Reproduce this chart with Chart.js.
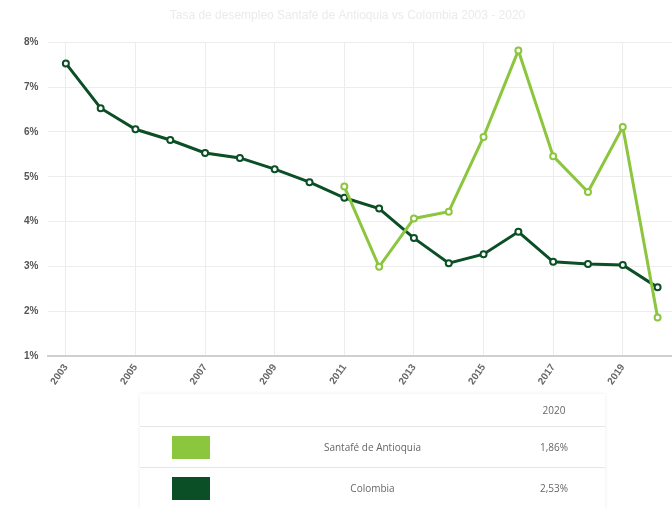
<!DOCTYPE html>
<html>
<head>
<meta charset="utf-8">
<script src="https://cdn.jsdelivr.net/npm/chart.js@4"></script>
<style>
  body { margin: 0; background: #fff; font-family: "Open Sans", "DejaVu Sans", sans-serif; overflow: hidden; }
  #wrap { position: relative; width: 681px; height: 393px; }
  #tabla {
    position: absolute; left: 140px; top: 394px; width: 465px;
    border-collapse: collapse; font-size: 10px; color: #666;
    box-shadow: 0 0 4px rgba(0,0,0,0.08); background: #fff;
  }
  #tabla td { border-bottom: 1px solid #e6e6e6; text-align: center; }
  #tabla tr.head td { height: 30px; }
  #tabla tr.row td { height: 38px; }
  .sw { display: inline-block; width: 38px; height: 23px; vertical-align: middle; }
</style>
</head>
<body>
<div id="wrap"><canvas id="chart"></canvas></div>
<table id="tabla">
  <tr class="head"><td style="width:100px"></td><td></td><td style="width:100px" id="hdr"></td></tr>
  <tr class="row"><td><span class="sw" style="background:#8cc63e"></span></td><td id="n0"></td><td id="v0"></td></tr>
  <tr class="row"><td><span class="sw" style="background:#0b4f26"></span></td><td id="n1"></td><td id="v1"></td></tr>
</table>
<script>
const years = ["2003","2004","2005","2006","2007","2008","2009","2010","2011","2012","2013","2014","2015","2016","2017","2018","2019","2020"];
const santafe = [null,null,null,null,null,null,null,null,4.78,2.99,4.07,4.22,5.89,7.82,5.46,4.66,6.11,1.86];
const colombia = [7.53,6.53,6.06,5.82,5.53,5.42,5.17,4.88,4.53,4.29,3.63,3.07,3.27,3.77,3.10,3.05,3.03,2.53];
const seriesNames = ["Santafé de Antioquia", "Colombia"];
const yTicks = [1, 2, 3, 4, 5, 6, 7, 8];

const fmt = (v) => v.toFixed(2).replace(".", ",") + "%";
document.getElementById("hdr").textContent = years[years.length - 1];
document.getElementById("n0").textContent = seriesNames[0];
document.getElementById("n1").textContent = seriesNames[1];
document.getElementById("v0").textContent = fmt(santafe[santafe.length - 1]);
document.getElementById("v1").textContent = fmt(colombia[colombia.length - 1]);

const ctx = document.getElementById("chart").getContext("2d");
new Chart(ctx, {
  type: "line",
  data: {
    labels: years,
    datasets: [
      {
        label: seriesNames[0],
        data: santafe,
        borderColor: "#8cc63e",
        backgroundColor: "#ffffff",
        borderWidth: 3,
        pointRadius: 3,
        pointBorderWidth: 2,
        fill: false,
        tension: 0,
      },
      {
        label: seriesNames[1],
        data: colombia,
        borderColor: "#0b4f26",
        backgroundColor: "#ffffff",
        borderWidth: 3,
        pointRadius: 3,
        pointBorderWidth: 2,
        fill: false,
        tension: 0,
      },
    ],
  },
  options: {
    responsive: true,
    maintainAspectRatio: false,
    animation: false,
    layout: { padding: { left: 14, right: 0, top: 0, bottom: 0 } },
    scales: {
      x: {
        offset: true,
        grid: {
          color: (c) => (c.index % 2 === 0 ? "#ececec" : "rgba(0,0,0,0)"),
          drawTicks: false,
        },
        border: { color: "#cfcfcf", width: 2 },
        ticks: {
          autoSkip: false,
          maxRotation: 55,
          minRotation: 55,
          padding: 6,
          color: "#666",
          font: { size: 10, weight: "bold" },
          callback: function (v, i) { return i % 2 === 0 ? years[i] : ""; },
        },
      },
      y: {
        min: yTicks[0],
        max: yTicks[yTicks.length - 1],
        afterBuildTicks: (axis) => { axis.ticks = yTicks.map((v) => ({ value: v })); },
        grid: { color: "#ededed", drawTicks: false },
        border: { display: false },
        ticks: {
          padding: 10,
          color: "#555",
          font: { size: 10, weight: "bold" },
          callback: (v) => v + "%",
        },
      },
    },
    plugins: {
      legend: { display: false },
      tooltip: { enabled: false },
      title: {
        display: true,
        text: "Tasa de desempleo Santafé de Antioquia vs Colombia 2003 - 2020",
        color: "#ebebeb",
        font: { size: 12, weight: "normal" },
        padding: { top: 8, bottom: 20 },
      },
    },
  },
});
</script>
</body>
</html>
